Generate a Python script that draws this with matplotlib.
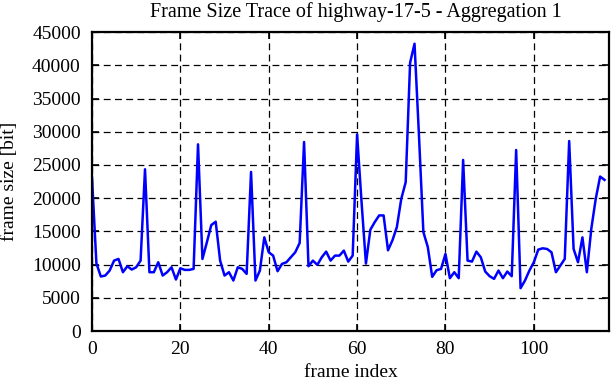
import matplotlib
matplotlib.use("Agg")
import matplotlib.pyplot as plt

# frame sizes in bit, one value per frame
frame_size = [
    23100, 10200, 8200, 8350, 9100, 10600, 10850, 8850, 9750, 9250,
    9600, 10600, 24350, 8850, 8850, 10350, 8350, 8850, 9600, 7750,
    9450, 9200, 9200, 9350, 28100, 10850, 13350, 15950, 16450, 10600,
    8350, 8850, 7600, 9600, 9350, 8600, 23950, 7600, 9100, 14100,
    11850, 11350, 9000, 10100, 10350, 11100, 11850, 13250, 28450, 9750,
    10600, 9950, 11100, 11950, 10600, 11350, 11350, 12100, 10450, 11350,
    29600, 19500, 10150, 15250, 16400, 17400, 17400, 12150, 13650, 15650,
    19900, 22400, 40400, 43250, 29500, 14900, 12650, 8150, 9150, 9350,
    11600, 7950, 8850, 7950, 25750, 10600, 10450, 11950, 11100, 8950,
    8250, 7850, 9100, 7950, 8950, 8250, 27250, 6450, 7600, 9100,
    10350, 12250, 12450, 12350, 11850, 8850, 9850, 10850, 28600, 12350,
    10350, 14100, 8850, 15350, 19850, 23250, 22750,
]
frame_index = list(range(len(frame_size)))

x_ticks = [0, 20, 40, 60, 80, 100]
y_ticks = list(range(0, 45001, 5000))

plt.rcParams["font.family"] = ["Liberation Serif", "DejaVu Serif"]
plt.rcParams["font.size"] = 14

fig = plt.figure(figsize=(6.12, 3.82), dpi=100)
ax = fig.add_axes([0.1503, 0.1335, 0.8447, 0.7825])

ax.plot(frame_index, frame_size, color="#0000ff", linewidth=1.8)

ax.set_xlim(0, 117)
ax.set_ylim(0, 45000)
ax.set_xticks(x_ticks)
ax.set_yticks(y_ticks)
ax.grid(True, color="black", linestyle=(0, (5.5, 3.5)), linewidth=0.9)
ax.tick_params(direction="in", length=5, width=1.2, top=True, right=True)
ax.tick_params(axis="x", pad=7)
ax.tick_params(axis="y", pad=8)
for spine in ax.spines.values():
    spine.set_linewidth(1.6)

fig.text(356 / 612, 1 - 12 / 382, "Frame Size Trace of highway-17-5 - Aggregation 1",
         ha="center", va="center", fontsize=14.5)
ax.set_xlabel("frame index")
ax.set_ylabel("frame size [bit]")
ax.xaxis.set_label_coords(0.5, -0.14)
ax.yaxis.set_label_coords(-0.16, 0.5)
ax.xaxis.label.set_va("center")
ax.yaxis.label.set_va("center")

fig.savefig("out.png", dpi=100)
